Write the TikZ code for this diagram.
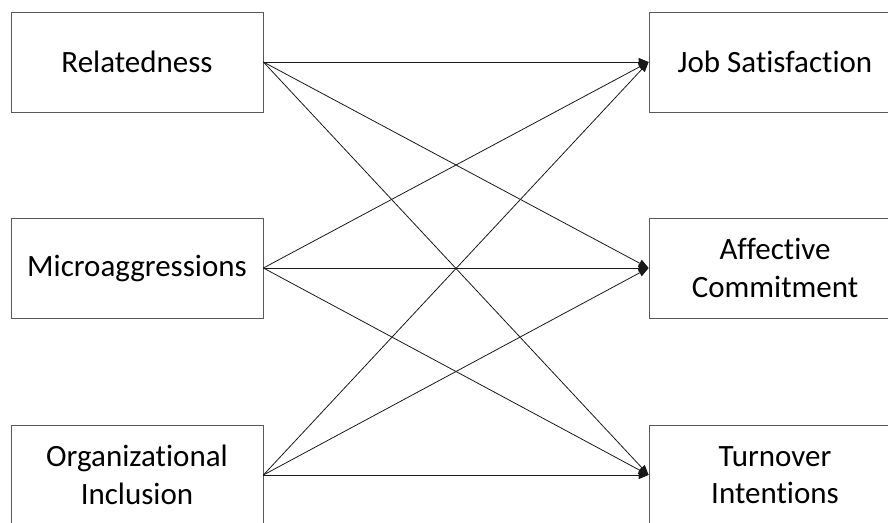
\documentclass[tikz,border=0pt]{standalone}
\usepackage{fontspec}
\setmainfont{Carlito}[Ligatures=NoCommon]
\usetikzlibrary{arrows.meta}

\begin{document}
\begin{tikzpicture}[x=1pt,y=1pt,every node/.style={font=\fontsize{31}{37.5}\selectfont}]

    % parámetros
    \def\W{252}       % ancho de cada caja
    \def\H{100}       % alto de cada caja
    \def\xL{137}      % centro de la columna izquierda
    \def\xR{775}      % centro de la columna derecha

    % colores
    \definecolor{boxline}{gray}{0.35}  % borde de las cajas
    \definecolor{arrowline}{gray}{0.1} % color de las flechas

    % estilos
    \tikzset{
      varbox/.style={draw=boxline, line width=0.8pt, fill=white,
                     minimum width=\W, minimum height=\H,
                     align=center, inner sep=0pt},
      path arrow/.style={draw=arrowline, line width=0.8pt,
                     -{Triangle[length=10pt,width=8pt]}}
    }

    % marco fijo (la imagen recorta las cajas de abajo y de la derecha)
    \useasboundingbox (0,0) rectangle (888,-522);

    % --- Columna izquierda: predictores ---
    \node[varbox] (related) at (\xL,-62) {Relatedness};
    \node[varbox] (micro)   at (\xL,-268) {Microaggressions};
    \node[varbox] (incl)    at (\xL,-475) {Organizational\\Inclusion};

    % --- Columna derecha: resultados ---
    \node[varbox] (jobsat)   at (\xR,-62) {Job Satisfaction};
    \node[varbox] (affcom)   at (\xR,-268) {Affective\\Commitment};
    \node[varbox] (turnover) at (\xR,-475) {Turnover\\Intentions};

    % --- Flechas desde Relatedness ---
    \draw[path arrow] (related.east) -- (jobsat.west);
    \draw[path arrow] (related.east) -- (affcom.west);
    \draw[path arrow] (related.east) -- (turnover.west);

    % --- Flechas desde Microaggressions ---
    \draw[path arrow] (micro.east) -- (jobsat.west);
    \draw[path arrow] (micro.east) -- (affcom.west);
    \draw[path arrow] (micro.east) -- (turnover.west);

    % --- Flechas desde Organizational Inclusion ---
    \draw[path arrow] (incl.east) -- (jobsat.west);
    \draw[path arrow] (incl.east) -- (affcom.west);
    \draw[path arrow] (incl.east) -- (turnover.west);

\end{tikzpicture}
\end{document}
